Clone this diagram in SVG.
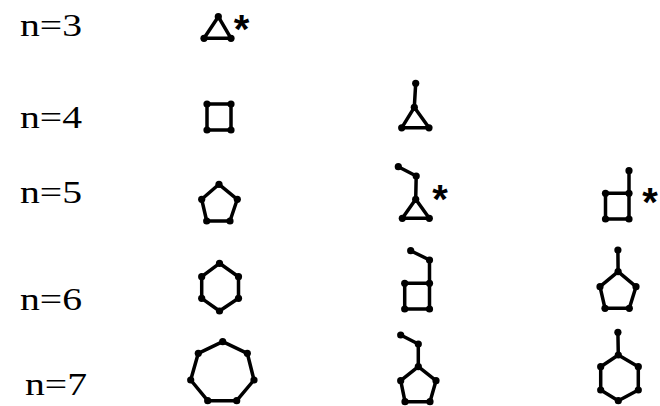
<svg xmlns="http://www.w3.org/2000/svg" width="660" height="406" viewBox="0 0 660 406">
<style>
.lbl{font-family:"Liberation Serif","Times New Roman",serif;font-size:31px;fill:#000}
.ast{font-family:"Liberation Sans",Arial,sans-serif;font-weight:bold;font-size:40px;fill:#000;text-anchor:middle}
.e{fill:none;stroke:#000;stroke-width:3.5;stroke-linejoin:round;stroke-linecap:round}
.v{fill:#000}
</style>
<rect width="660" height="406" fill="#fff"/>
<g id="labels">
<text class="lbl" x="20" y="36" textLength="62" lengthAdjust="spacingAndGlyphs">n=3</text>
<text class="lbl" x="20" y="128" textLength="62" lengthAdjust="spacingAndGlyphs">n=4</text>
<text class="lbl" x="20" y="203" textLength="62" lengthAdjust="spacingAndGlyphs">n=5</text>
<text class="lbl" x="20" y="310" textLength="62" lengthAdjust="spacingAndGlyphs">n=6</text>
<text class="lbl" x="25" y="395" textLength="62" lengthAdjust="spacingAndGlyphs">n=7</text>
</g>
<g id="edges">
<polygon class="e" points="218.3,16.7 204,38.3 231,38.3"/>
<polygon class="e" points="207,104 231,104 231,130 207,130"/>
<polyline class="e" points="415.7,83.3 414.3,107.3"/>
<polygon class="e" points="414.3,107.3 401.7,127.8 429,127.8"/>
<polygon class="e" points="219,184.3 237.3,199.3 230,221 206.7,221 201.7,199.3"/>
<polyline class="e" points="398.3,166.7 416.2,176 415.7,199.3"/>
<polygon class="e" points="415.7,199.3 402.3,218.3 429.3,218.3"/>
<polyline class="e" points="629,170.7 629,193.3"/>
<polygon class="e" points="605.5,193.3 629,193.3 629,219 605.5,219"/>
<polygon class="e" points="219.5,263.3 238.5,276.7 238.5,298.3 219.5,311 201.7,298.3 201.7,276.7"/>
<polyline class="e" points="410.7,250.7 429.5,260 429.5,283.3"/>
<polygon class="e" points="404.7,283.3 429.5,283.3 429.5,309 404.7,309"/>
<polyline class="e" points="617.9,250 618.1,271.7"/>
<polygon class="e" points="618.1,271.7 636,286.7 629.3,308.3 605,308.3 600,286.7"/>
<polygon class="e" points="222.7,341.7 247.3,353.3 254,380 236.7,400.7 207.7,400.7 190.7,380 198.3,353.3"/>
<polyline class="e" points="400.7,335 418.3,344 418.3,366.7"/>
<polygon class="e" points="418.3,366.7 436,380.7 430,401.7 405,401.7 400.7,380.7"/>
<polyline class="e" points="617.9,332.3 618.3,355"/>
<polygon class="e" points="618.3,355 638.3,366.7 638.3,390 618.3,400.7 600.7,390 600.7,366.7"/>
</g>
<g id="g3a">
<circle class="v" cx="218.3" cy="16.7" r="3.6"/><circle class="v" cx="204" cy="38.3" r="3.6"/><circle class="v" cx="231" cy="38.3" r="3.6"/>
<text class="ast" x="241.5" y="43">*</text>
</g>
<g id="g4a">
<circle class="v" cx="207" cy="104" r="3.6"/><circle class="v" cx="231" cy="104" r="3.6"/><circle class="v" cx="231" cy="130" r="3.6"/><circle class="v" cx="207" cy="130" r="3.6"/>
</g>
<g id="g4b">
<circle class="v" cx="415.7" cy="83.3" r="3.6"/><circle class="v" cx="414.3" cy="107.3" r="3.6"/><circle class="v" cx="401.7" cy="127.8" r="3.6"/><circle class="v" cx="429" cy="127.8" r="3.6"/>
</g>
<g id="g5a">
<circle class="v" cx="219" cy="184.3" r="3.6"/><circle class="v" cx="237.3" cy="199.3" r="3.6"/><circle class="v" cx="230" cy="221" r="3.6"/><circle class="v" cx="206.7" cy="221" r="3.6"/><circle class="v" cx="201.7" cy="199.3" r="3.6"/>
</g>
<g id="g5b">
<circle class="v" cx="398.3" cy="166.7" r="3.6"/><circle class="v" cx="416.2" cy="176" r="3.6"/><circle class="v" cx="415.7" cy="199.3" r="3.6"/><circle class="v" cx="402.3" cy="218.3" r="3.6"/><circle class="v" cx="429.3" cy="218.3" r="3.6"/>
<text class="ast" x="440" y="213">*</text>
</g>
<g id="g5c">
<circle class="v" cx="629" cy="170.7" r="3.6"/><circle class="v" cx="605.5" cy="193.3" r="3.6"/><circle class="v" cx="629" cy="193.3" r="3.6"/><circle class="v" cx="629" cy="219" r="3.6"/><circle class="v" cx="605.5" cy="219" r="3.6"/>
<text class="ast" x="650" y="216">*</text>
</g>
<g id="g6a">
<circle class="v" cx="219.5" cy="263.3" r="3.6"/><circle class="v" cx="238.5" cy="276.7" r="3.6"/><circle class="v" cx="238.5" cy="298.3" r="3.6"/><circle class="v" cx="219.5" cy="311" r="3.6"/><circle class="v" cx="201.7" cy="298.3" r="3.6"/><circle class="v" cx="201.7" cy="276.7" r="3.6"/>
</g>
<g id="g6b">
<circle class="v" cx="410.7" cy="250.7" r="3.6"/><circle class="v" cx="429.5" cy="260" r="3.6"/><circle class="v" cx="429.5" cy="283.3" r="3.6"/><circle class="v" cx="404.7" cy="283.3" r="3.6"/><circle class="v" cx="404.7" cy="309" r="3.6"/><circle class="v" cx="429.5" cy="309" r="3.6"/>
</g>
<g id="g6c">
<circle class="v" cx="617.9" cy="250" r="3.6"/><circle class="v" cx="618.1" cy="271.7" r="3.6"/><circle class="v" cx="636" cy="286.7" r="3.6"/><circle class="v" cx="629.3" cy="308.3" r="3.6"/><circle class="v" cx="605" cy="308.3" r="3.6"/><circle class="v" cx="600" cy="286.7" r="3.6"/>
</g>
<g id="g7a">
<circle class="v" cx="222.7" cy="341.7" r="3.6"/><circle class="v" cx="247.3" cy="353.3" r="3.6"/><circle class="v" cx="254" cy="380" r="3.6"/><circle class="v" cx="236.7" cy="400.7" r="3.6"/><circle class="v" cx="207.7" cy="400.7" r="3.6"/><circle class="v" cx="190.7" cy="380" r="3.6"/><circle class="v" cx="198.3" cy="353.3" r="3.6"/>
</g>
<g id="g7b">
<circle class="v" cx="400.7" cy="335" r="3.6"/><circle class="v" cx="418.3" cy="344" r="3.6"/><circle class="v" cx="418.3" cy="366.7" r="3.6"/><circle class="v" cx="436" cy="380.7" r="3.6"/><circle class="v" cx="430" cy="401.7" r="3.6"/><circle class="v" cx="405" cy="401.7" r="3.6"/><circle class="v" cx="400.7" cy="380.7" r="3.6"/>
</g>
<g id="g7c">
<circle class="v" cx="617.9" cy="332.3" r="3.6"/><circle class="v" cx="618.3" cy="355" r="3.6"/><circle class="v" cx="638.3" cy="366.7" r="3.6"/><circle class="v" cx="638.3" cy="390" r="3.6"/><circle class="v" cx="618.3" cy="400.7" r="3.6"/><circle class="v" cx="600.7" cy="390" r="3.6"/><circle class="v" cx="600.7" cy="366.7" r="3.6"/>
</g>
</svg>
